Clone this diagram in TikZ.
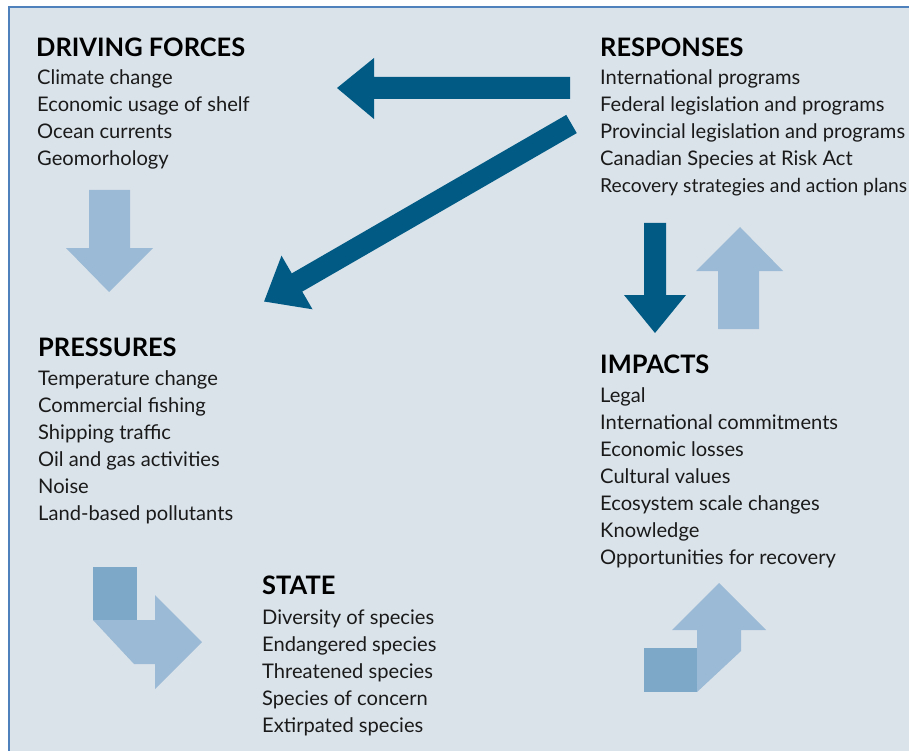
\documentclass[tikz,border=0pt]{standalone}
\usepackage{fontspec}
\setmainfont{Lato}
\definecolor{bgc}{HTML}{DAE3EA}
\definecolor{framec}{HTML}{4F81BD}
\definecolor{darkarr}{HTML}{005A84}
\definecolor{lightarr}{HTML}{9BBAD5}
\definecolor{sqc}{HTML}{7DA8C8}
\definecolor{txt}{HTML}{1A1A1A}
\newlength\bodyw
\newlength\headw
\newlength\recw
\AtBeginDocument{%
\settowidth\bodyw{\fontsize{20pt}{24pt}\selectfont Provincial legislation and programs}%
\settowidth\headw{\fontsize{20pt}{24pt}\selectfont\bfseries DRIVING FORCES}%
\settowidth\recw{\fontsize{20pt}{24pt}\selectfont Recovery strategies and action plans}%
\pgfmathsetmacro\bodysz{20*305/\bodyw}%
\pgfmathsetmacro\headsz{20*209/\headw}%
\pgfmathsetmacro\recsz{20*307/\recw}%
\xdef\bodysz{\bodysz}\xdef\headsz{\headsz}\xdef\recsz{\recsz}}
\newcommand\bodyfont{\fontsize{\bodysz pt}{27pt}\selectfont}
\newcommand\recfont{\fontsize{\recsz pt}{27pt}\selectfont}
\newcommand\headfont{\fontsize{\headsz pt}{27pt}\selectfont\bfseries}
\tikzset{
  hd/.style={anchor=base west, inner sep=0pt, font=\headfont, text=black},
  it/.style={anchor=base west, inner sep=0pt, font=\bodyfont, text=txt},
  darkshape/.style={fill=darkarr, draw=none},
  lightshape/.style={fill=lightarr, draw=none},
  sqshape/.style={fill=sqc, draw=none}
}
\begin{document}
\begin{tikzpicture}[x=1pt,y=-1pt]
\useasboundingbox (0,0) rectangle (909,751);
\fill[white] (0,0) rectangle (909,751);
\fill[bgc] (8.5,7.5) rectangle (909,751);
\draw[framec, line width=2pt] (8.5,751) -- (8.5,7.5) -- (909,7.5);

% arrows
\fill[darkshape] (570,77) -- (374,77) -- (374,58) -- (337,88) -- (374,119) -- (374,99) -- (570,99) -- cycle;
\fill[darkshape] (566.25,114.9) -- (291.75,273.4) -- (281.5,255.7) -- (264.1,301.5) -- (312.5,309.3) -- (302.25,291.6) -- (576.75,133.1) -- cycle;
\fill[darkshape] (644,223) -- (666,223) -- (666,295) -- (686,295) -- (655,333) -- (624,295) -- (644,295) -- cycle;
\fill[lightshape] (718,329) -- (718,271) -- (696,271) -- (740,227) -- (783,271) -- (759,271) -- (759,329) -- cycle;
\fill[lightshape] (89,190) -- (130,190) -- (130,248) -- (153,248) -- (109,292) -- (66,248) -- (89,248) -- cycle;
\fill[sqshape] (93,567) rectangle (137,620);
\fill[lightshape] (93,620) -- (155,620) -- (155,595) -- (202,642) -- (155,689) -- (155,664) -- (134,664) -- cycle;
\fill[sqshape] (644,648) rectangle (697,692);
\fill[lightshape] (697,692) -- (741,651) -- (741,630) -- (766,630) -- (719,583) -- (672,630) -- (697,630) -- cycle;

% texts
\node[hd] (dfh) at (36,57) {DRIVING FORCES};
\foreach \t [count=\i] in {Climate change, Economic usage of shelf, Ocean currents, Geomorhology}
  \node[it] (df\i) at (37,{85+27*(\i-1)}) {\t};
\node[hd] (reh) at (600,57) {RESPONSES};
\foreach \t [count=\i] in {International programs, Federal legislation and programs, Provincial legislation and programs, Canadian Species at Risk Act}
  \node[it] (re\i) at (600,{85+27*(\i-1)}) {\t};
\node[it, font=\recfont] (re5) at (600,193) {Recovery strategies and action plans};
\node[hd] (prh) at (38,356) {PRESSURES};
\foreach \t [count=\i] in {Temperature change, Commercial fishing, Shipping traffic, Oil and gas activities, Noise, Land-based pollutants}
  \node[it] (pr\i) at (38,{385+27*(\i-1)}) {\t};
\node[hd] (imh) at (600,373) {IMPACTS};
\foreach \t [count=\i] in {Legal, International commitments, Economic losses, Cultural values, Ecosystem scale changes, Knowledge, Opportunities for recovery}
  \node[it] (im\i) at (600,{402+27*(\i-1)}) {\t};
\node[hd] (sth) at (262,594) {STATE};
\foreach \t [count=\i] in {Diversity of species, Endangered species, Threatened species, Species of concern, Extirpated species}
  \node[it] (st\i) at (262,{624+27*(\i-1)}) {\t};
\end{tikzpicture}
\end{document}
